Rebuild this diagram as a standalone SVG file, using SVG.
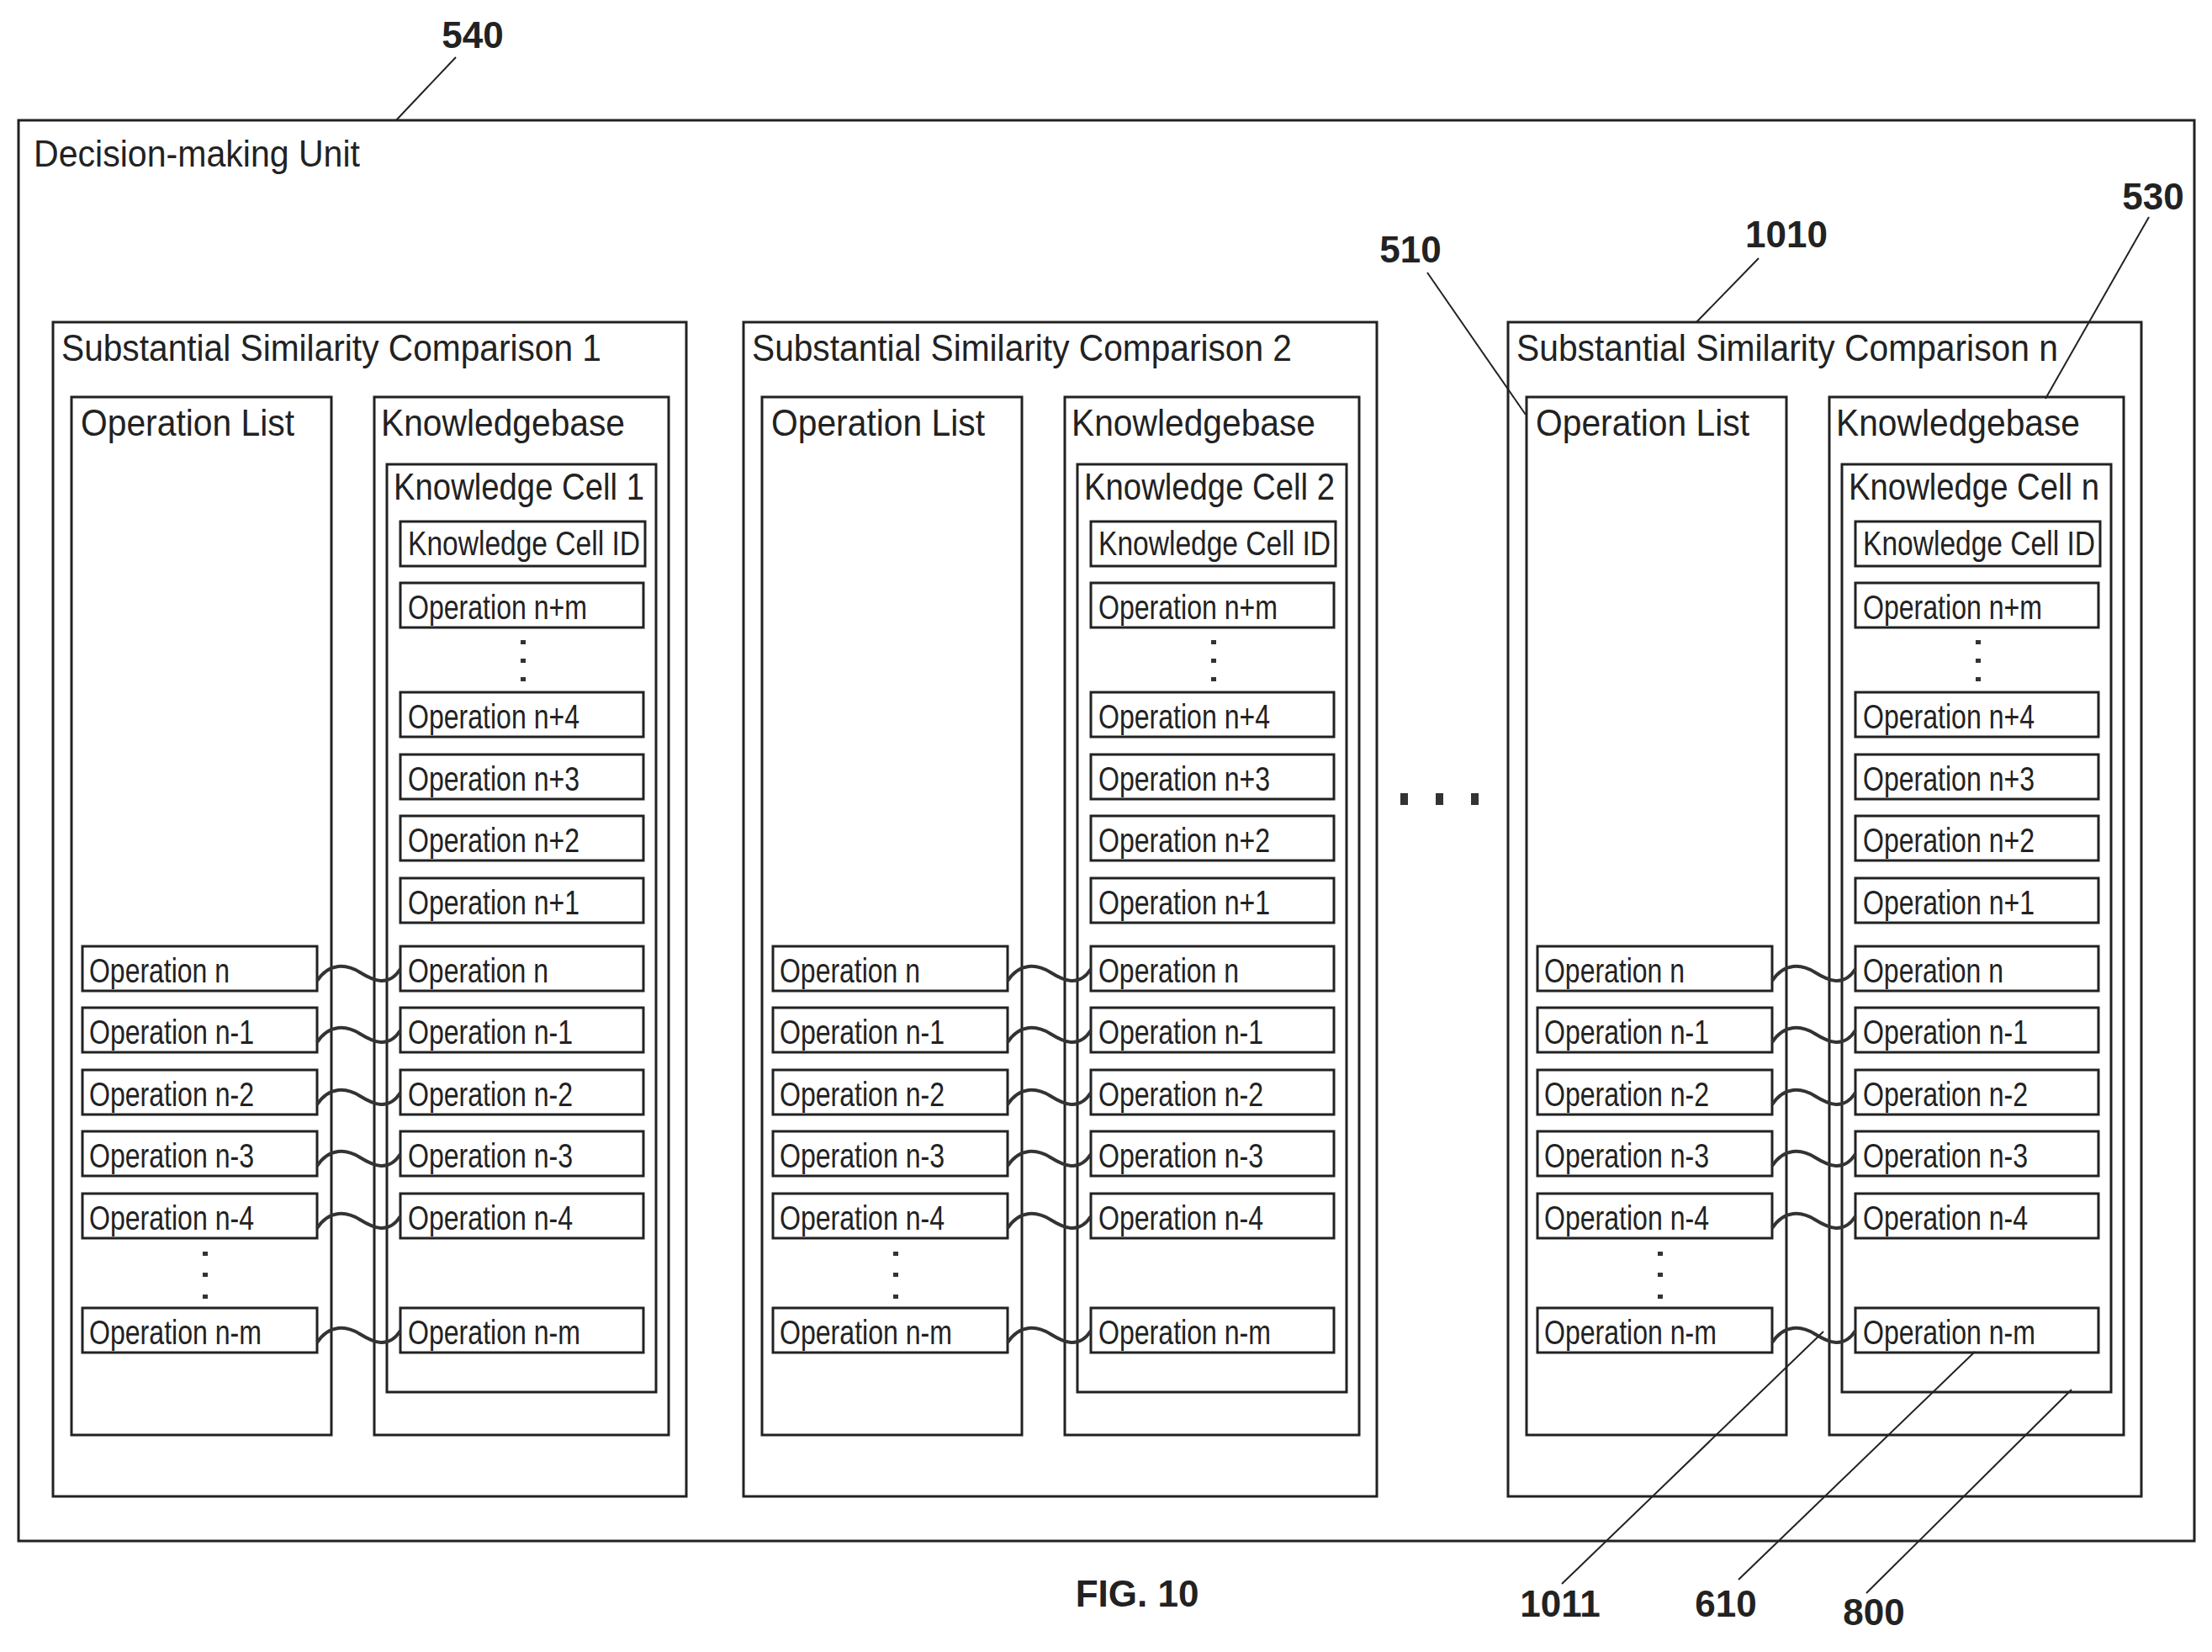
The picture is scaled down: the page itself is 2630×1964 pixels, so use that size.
<svg xmlns="http://www.w3.org/2000/svg" xmlns:xlink="http://www.w3.org/1999/xlink" width="2630" height="1964" viewBox="0 0 2630 1964">
<style>
rect{fill:none;stroke:#222;stroke-width:3}
.lead{fill:none;stroke:#222;stroke-width:2}
.wave{fill:none;stroke:#333;stroke-width:4}
text{font-family:"Liberation Sans",Arial,sans-serif;fill:#222}
.h{font-size:44px}
.op{font-size:40px;font-weight:300}
.num{font-size:44px;font-weight:bold}
.dot{fill:#333;stroke:none}
</style>
<defs>
<g id="cmp">
<rect x="63" y="383" width="753" height="1396"/>
<rect x="85" y="472" width="309" height="1234"/>
<rect x="445" y="472" width="350" height="1234"/>
<rect x="460" y="552" width="320" height="1103"/>
<rect x="476" y="620" width="291" height="53"/>
<text class="op" x="485" y="660" textLength="276" lengthAdjust="spacingAndGlyphs">Knowledge Cell ID</text>
<text class="h" x="96" y="518" textLength="254" lengthAdjust="spacingAndGlyphs">Operation List</text>
<text class="h" x="453" y="518" textLength="290" lengthAdjust="spacingAndGlyphs">Knowledgebase</text>
<g>
<rect x="476" y="693" width="289" height="53"/><text class="op" x="485" y="736" textLength="213" lengthAdjust="spacingAndGlyphs">Operation n+m</text>
<rect x="476" y="823" width="289" height="53"/><text class="op" x="485" y="866" textLength="204" lengthAdjust="spacingAndGlyphs">Operation n+4</text>
<rect x="476" y="897" width="289" height="53"/><text class="op" x="485" y="940" textLength="204" lengthAdjust="spacingAndGlyphs">Operation n+3</text>
<rect x="476" y="970" width="289" height="53"/><text class="op" x="485" y="1013" textLength="204" lengthAdjust="spacingAndGlyphs">Operation n+2</text>
<rect x="476" y="1044" width="289" height="53"/><text class="op" x="485" y="1087" textLength="204" lengthAdjust="spacingAndGlyphs">Operation n+1</text>
<rect x="476" y="1125" width="289" height="53"/><text class="op" x="485" y="1168" textLength="167" lengthAdjust="spacingAndGlyphs">Operation n</text>
<rect x="476" y="1198" width="289" height="53"/><text class="op" x="485" y="1241" textLength="196" lengthAdjust="spacingAndGlyphs">Operation n-1</text>
<rect x="476" y="1272" width="289" height="53"/><text class="op" x="485" y="1315" textLength="196" lengthAdjust="spacingAndGlyphs">Operation n-2</text>
<rect x="476" y="1345" width="289" height="53"/><text class="op" x="485" y="1388" textLength="196" lengthAdjust="spacingAndGlyphs">Operation n-3</text>
<rect x="476" y="1419" width="289" height="53"/><text class="op" x="485" y="1462" textLength="196" lengthAdjust="spacingAndGlyphs">Operation n-4</text>
<rect x="476" y="1555" width="289" height="53"/><text class="op" x="485" y="1598" textLength="205" lengthAdjust="spacingAndGlyphs">Operation n-m</text>
<rect class="dot" x="619" y="761" width="6" height="5"/><rect class="dot" x="619" y="783" width="6" height="5"/><rect class="dot" x="619" y="805" width="6" height="5"/>
</g>
<g>
<rect x="98" y="1125" width="279" height="53"/><text class="op" x="106" y="1168" textLength="167" lengthAdjust="spacingAndGlyphs">Operation n</text>
<rect x="98" y="1198" width="279" height="53"/><text class="op" x="106" y="1241" textLength="196" lengthAdjust="spacingAndGlyphs">Operation n-1</text>
<rect x="98" y="1272" width="279" height="53"/><text class="op" x="106" y="1315" textLength="196" lengthAdjust="spacingAndGlyphs">Operation n-2</text>
<rect x="98" y="1345" width="279" height="53"/><text class="op" x="106" y="1388" textLength="196" lengthAdjust="spacingAndGlyphs">Operation n-3</text>
<rect x="98" y="1419" width="279" height="53"/><text class="op" x="106" y="1462" textLength="196" lengthAdjust="spacingAndGlyphs">Operation n-4</text>
<rect x="98" y="1555" width="279" height="53"/><text class="op" x="106" y="1598" textLength="205" lengthAdjust="spacingAndGlyphs">Operation n-m</text>
<rect class="dot" x="241" y="1488" width="6" height="5"/><rect class="dot" x="241" y="1513" width="6" height="5"/><rect class="dot" x="241" y="1539" width="6" height="5"/>
</g>
</g>
<g id="waves">
<path class="wave" d="M377,1166 C392,1144 412,1146 428,1156 S462,1174 476,1152"/>
<path class="wave" d="M377,1239 C392,1217 412,1219 428,1229 S462,1247 476,1225"/>
<path class="wave" d="M377,1313 C392,1291 412,1293 428,1303 S462,1321 476,1299"/>
<path class="wave" d="M377,1386 C392,1364 412,1366 428,1376 S462,1394 476,1372"/>
<path class="wave" d="M377,1460 C392,1438 412,1440 428,1450 S462,1468 476,1446"/>
<path class="wave" d="M377,1596 C392,1574 412,1576 428,1586 S462,1604 476,1582"/>
</g>
</defs>

<g id="decision-making-unit">
<rect x="22" y="143" width="2587" height="1689"/>
<text class="h" x="40" y="198" textLength="388" lengthAdjust="spacingAndGlyphs">Decision-making Unit</text>
</g>

<g id="comparison-1">
<use xlink:href="#cmp"/>
<text class="h" x="73" y="429" textLength="642" lengthAdjust="spacingAndGlyphs">Substantial Similarity Comparison 1</text>
<text class="h" x="468" y="594" textLength="298" lengthAdjust="spacingAndGlyphs">Knowledge Cell 1</text>
</g>
<g id="comparison-2" transform="translate(821,0)">
<use xlink:href="#cmp"/>
<text class="h" x="73" y="429" textLength="642" lengthAdjust="spacingAndGlyphs">Substantial Similarity Comparison 2</text>
<text class="h" x="468" y="594" textLength="298" lengthAdjust="spacingAndGlyphs">Knowledge Cell 2</text>
</g>
<g id="comparison-n" transform="translate(1730,0)">
<use xlink:href="#cmp"/>
<text class="h" x="73" y="429" textLength="644" lengthAdjust="spacingAndGlyphs">Substantial Similarity Comparison n</text>
<text class="h" x="468" y="594" textLength="298" lengthAdjust="spacingAndGlyphs">Knowledge Cell n</text>
</g>

<g id="ellipsis">
<rect class="dot" x="1665" y="943" width="9" height="14"/>
<rect class="dot" x="1707" y="943" width="9" height="14"/>
<rect class="dot" x="1749" y="943" width="9" height="14"/>
</g>

<g id="connectors">
<use xlink:href="#waves"/>
<use xlink:href="#waves" transform="translate(821,0)"/>
<use xlink:href="#waves" transform="translate(1730,0)"/>
<line class="lead" x1="542" y1="68" x2="471" y2="143"/>
<line class="lead" x1="2091" y1="307" x2="2017" y2="383"/>
<line class="lead" x1="2555" y1="258" x2="2432" y2="474"/>
<line class="lead" x1="1697" y1="324" x2="1814" y2="493"/>
<line class="lead" x1="1857" y1="1883" x2="2168" y2="1583"/>
<line class="lead" x1="2067" y1="1878" x2="2348" y2="1607"/>
<line class="lead" x1="2219" y1="1894" x2="2463" y2="1652"/>
</g>

<g id="labels">
<text class="num" x="562" y="57" text-anchor="middle">540</text>
<text class="num" x="2124" y="294" text-anchor="middle">1010</text>
<text class="num" x="2560" y="249" text-anchor="middle">530</text>
<text class="num" x="1677" y="312" text-anchor="middle">510</text>
<text class="num" x="1855" y="1922" text-anchor="middle">1011</text>
<text class="num" x="2052" y="1922" text-anchor="middle">610</text>
<text class="num" x="2228" y="1932" text-anchor="middle">800</text>
<text class="num" x="1352" y="1910" text-anchor="middle" font-size="48">FIG. 10</text>
</g>
</svg>
